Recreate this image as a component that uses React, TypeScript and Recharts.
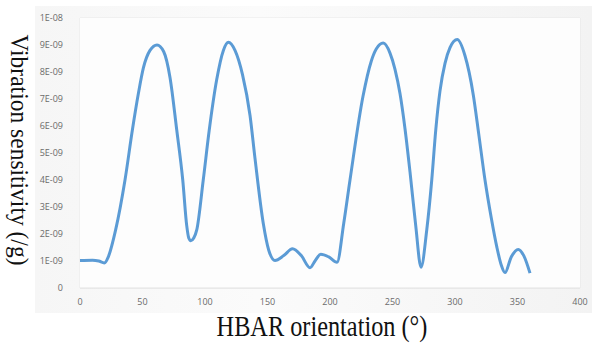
import { LineChart, Line, XAxis, YAxis, CartesianGrid } from "recharts";

// HBAR orientation in degrees
const orientation = [
  0, 10, 15, 19.5, 22.7, 28.5, 36, 41.9, 46.7, 50.7, 56, 61.6, 67, 72, 77.4, 82.2, 85.4,
  87, 88.6, 91, 93.4, 98.6, 103.4, 109.3, 114.7, 118.7, 124, 130, 136, 140, 146.6, 151,
  156, 163, 170, 177, 184, 188, 192.6, 199, 205.6, 211, 216, 226.4, 233, 237, 242.6, 248,
  252, 256, 260, 264, 268.6, 272.8, 277.4, 281.4, 284.6, 288, 292, 296, 301.8, 308, 314.6,
  319, 324, 329, 333.4, 337, 340, 345, 350.6, 355, 360,
];

// vibration sensitivity in units of 1E-09 /g
const sensitivity = [
  1.02, 1.03, 1.0, 0.93, 1.16, 2.15, 4.0, 5.85, 7.2, 8.15, 8.8, 9.0, 8.75, 7.8, 5.85, 4.0,
  2.3, 1.85, 1.75, 1.85, 2.15, 4.0, 5.85, 7.7, 8.8, 9.1, 8.8, 7.9, 6.4, 4.8, 2.4, 1.4,
  1.02, 1.2, 1.45, 1.2, 0.75, 1.0, 1.25, 1.15, 0.95, 2.4, 4.0, 7.1, 8.4, 8.85, 9.07, 8.7,
  8.1, 7.2, 5.9, 4.3, 2.3, 0.77, 2.15, 4.0, 5.85, 7.3, 8.32, 8.9, 9.2, 8.6, 7.16, 5.7, 4.0,
  2.6, 1.53, 0.85, 0.57, 1.15, 1.43, 1.2, 0.55,
];

const xTicks = [0, 50, 100, 150, 200, 250, 300, 350, 400];
const yTicks = [0, 1, 2, 3, 4, 5, 6, 7, 8, 9, 10];
const yTickLabels = ["0", "1E-09", "2E-09", "3E-09", "4E-09", "5E-09", "6E-09", "7E-09", "8E-09", "9E-09", "1E-08"];

const data = orientation.map((deg, i) => ({ deg, v: sensitivity[i] }));

const tickStyle = { fontSize: 9, fill: "#6b6b6b", fontFamily: "'Open Sans', sans-serif" };

export default function App() {
  return (
    <div style={{ position: "absolute", left: 0, top: 0, width: 598, height: 343, background: "#fff", overflow: "hidden" }}>
      <div
        style={{
          position: "absolute",
          left: 35,
          top: 6,
          width: 557,
          height: 307,
          background: "linear-gradient(90deg, #f6f6f6 0%, #fbfbfb 40%, #f3f3f3 100%)",
        }}
      />
      <div style={{ position: "absolute", left: 0, top: 0 }}>
        <LineChart width={598} height={343} data={data} margin={{ top: 18, right: 18, left: 0, bottom: 0 }}>
          <rect x={80} y={18} width={500} height={270} fill="#fdfdfd" />
          <CartesianGrid stroke="#e8e8e8" strokeWidth={1} />
          <XAxis
            dataKey="deg"
            type="number"
            domain={[0, 400]}
            ticks={xTicks}
            height={55}
            tickLine={false}
            axisLine={{ stroke: "#e2e2e2" }}
            tickMargin={5}
            tick={tickStyle}
          />
          <YAxis
            type="number"
            domain={[0, 10]}
            ticks={yTicks}
            width={80}
            tickLine={false}
            axisLine={false}
            tickMargin={11}
            tick={tickStyle}
            tickFormatter={(v: number) => yTickLabels[yTicks.indexOf(v)]}
          />
          <Line
            type="monotone"
            dataKey="v"
            stroke="#5b9bd5"
            strokeWidth={3}
            dot={false}
            isAnimationActive={false}
          />
        </LineChart>
      </div>
      <div
        style={{
          position: "absolute",
          left: 19,
          top: 150,
          transform: "translate(-50%, -50%) rotate(90deg) scaleY(1.1)",
          whiteSpace: "nowrap",
          fontFamily: "'Liberation Serif', 'Times New Roman', serif",
          fontSize: 23.5,
          color: "#111",
        }}
      >
        Vibration sensitivity (/g)
      </div>
      <div
        style={{
          position: "absolute",
          left: 322,
          top: 313,
          transform: "translateX(-50%) scaleY(1.17)",
          transformOrigin: "50% 0",
          whiteSpace: "nowrap",
          fontFamily: "'Liberation Serif', 'Times New Roman', serif",
          fontSize: 24.3,
          lineHeight: 1,
          color: "#111",
        }}
      >
        HBAR orientation (°)
      </div>
    </div>
  );
}
